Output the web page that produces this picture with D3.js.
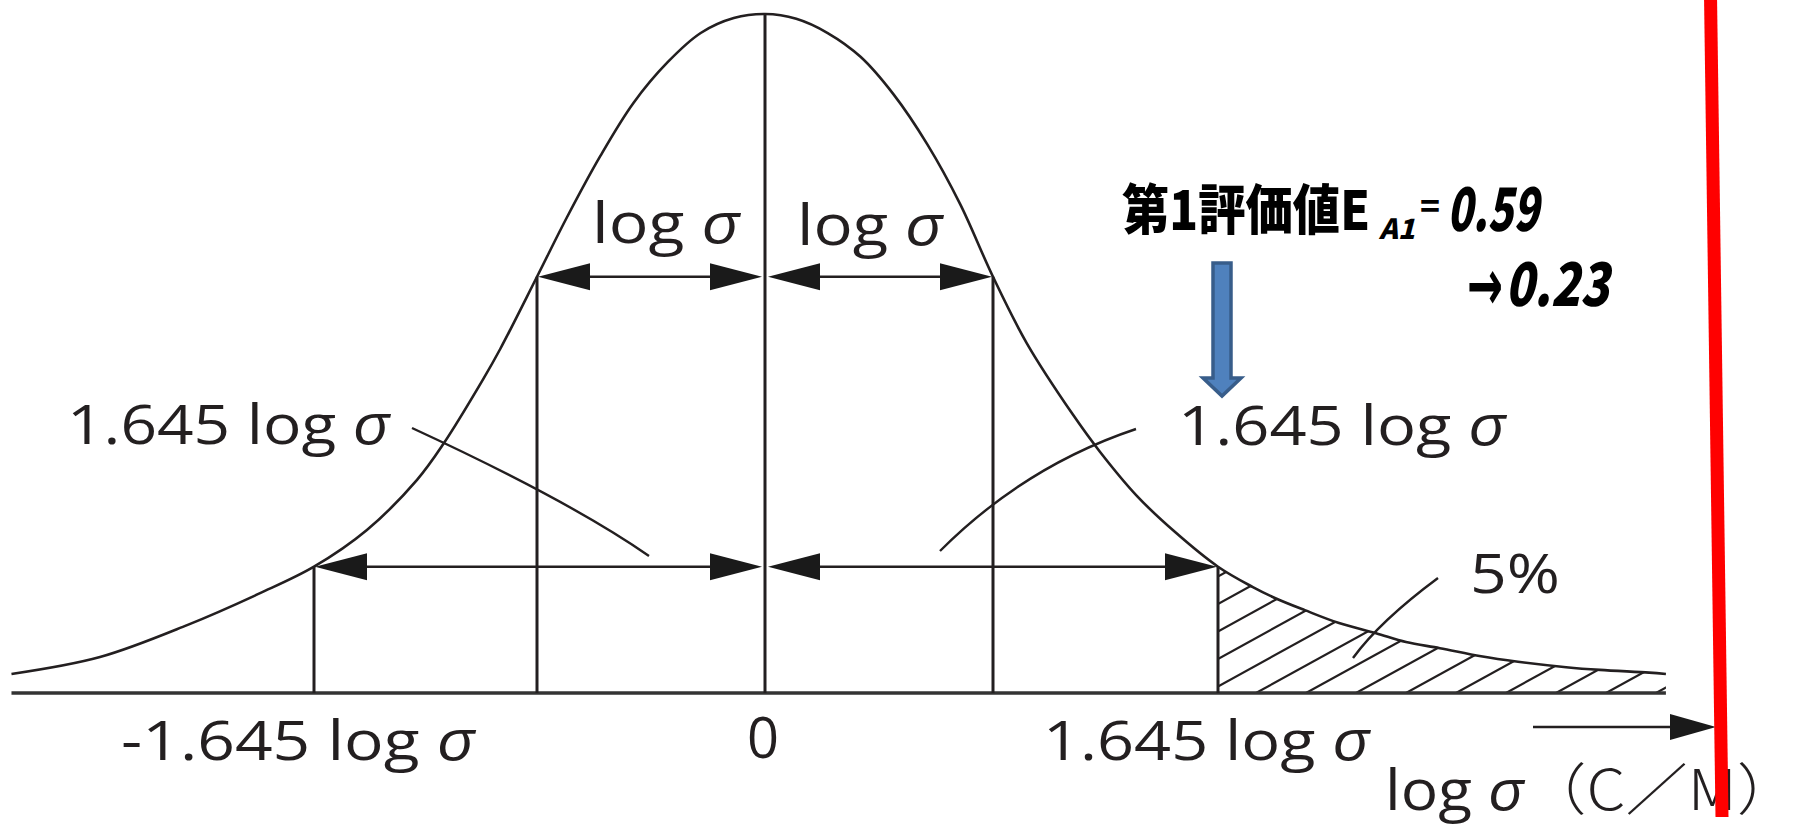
<!DOCTYPE html>
<html>
<head>
<meta charset="utf-8">
<script src="https://cdn.jsdelivr.net/npm/d3@7"></script>
<style>
  html, body { margin: 0; padding: 0; background: #fff; }
  svg { display: block; }
  .lbl { font-family: "Open Sans", "Noto Sans", sans-serif; fill: #231f20; }
  .jp { font-family: "Noto Sans CJK JP", sans-serif; font-weight: 900; fill: #000; }
</style>
</head>
<body>
<svg id="chart" width="1808" height="825"></svg>
<script>
// Distribution curve, x in units of log σ (schematic spacing), y relative to the peak density
const curveX = [-2.52, -2.264, -2.012, -1.801, -1.645, -1.492, -1.347, -1.272, -1.156, -1.106,
                -1, -0.868, -0.722, -0.577, -0.427, -0.282, -0.137, 0,
                0.137, 0.275, 0.419, 0.563, 0.712, 0.856, 1, 1.097, 1.229, 1.307, 1.413, 1.522,
                1.645, 1.745, 1.808, 1.894, 1.992, 2.098, 2.184, 2.281, 2.399, 2.505, 2.643, 2.740, 2.881, 2.929];
const curveY = [0.028, 0.053, 0.100, 0.147, 0.186, 0.240, 0.314, 0.366, 0.462, 0.507,
                0.613, 0.701, 0.791, 0.869, 0.929, 0.972, 0.994, 1,
                0.993, 0.972, 0.937, 0.882, 0.808, 0.720, 0.613, 0.515, 0.410, 0.355, 0.290, 0.237,
                0.186, 0.156, 0.140, 0.122, 0.103, 0.088, 0.075, 0.066, 0.054, 0.046, 0.038, 0.034, 0.030, 0.028];

// Marked positions on the axis and the spans annotated between them
const markX = [-1.645, -1, 0, 1, 1.645];
const innerSpans = [[-1, 0], [0, 1]];
const outerSpans = [[-1.645, 0], [0, 1.645]];
const innerSpanLabel = "log ";
const outerSpanLabel = "1.645 log ";
const tickLabels = ["-1.645 log ", "0", "1.645 log "];
const tailStart = 1.645;
const tailLabel = "5%";
const axisTitle = ["log ", "σ", "（C／M）"];
const evalTitle = "第1評価値E";
const evalSub = "A1";
const evalBefore = "0.59";
const evalAfter = "0.23";

const svg = d3.select("#chart");
const ink = "#231f20";

// Piecewise x scale: the marks are drawn at schematic (not proportional) spacing
const x = d3.scaleLinear().domain(markX).range([314, 537, 765, 993, 1218]);
const y = d3.scaleLinear().domain([0, 1]).range([693, 14]);

const pts = curveX.map((v, i) => [v, curveY[i]]);
const yAt = v => curveY[curveX.indexOf(v)];

const line = d3.line().x(d => x(d[0])).y(d => y(d[1])).curve(d3.curveCatmullRom.alpha(0.5));
const area = d3.area().x(d => x(d[0])).y0(y(0)).y1(d => y(d[1])).curve(d3.curveCatmullRom.alpha(0.5));

const defs = svg.append("defs");
defs.append("clipPath").attr("id", "under").append("path").attr("d", area(pts));
defs.append("clipPath").attr("id", "tail").append("rect")
  .attr("x", x(tailStart)).attr("y", 0)
  .attr("width", x(curveX[curveX.length - 1]) - x(tailStart) + 5).attr("height", y(0));

// Hatched upper tail
const hatch = svg.append("g").attr("clip-path", "url(#tail)")
  .append("g").attr("clip-path", "url(#under)");
const hx0 = x(tailStart) - 12;
d3.range(-4, 11).forEach(k => {
  const bx = hx0 + 50 * k;
  hatch.append("line")
    .attr("x1", bx).attr("y1", y(0))
    .attr("x2", bx + 500).attr("y2", y(0) - 0.55 * 500)
    .attr("stroke", ink).attr("stroke-width", 2.2);
});

// Baseline
svg.append("line")
  .attr("x1", x(curveX[0])).attr("x2", x(curveX[curveX.length - 1]))
  .attr("y1", y(0)).attr("y2", y(0))
  .attr("stroke", "#333").attr("stroke-width", 3.5);

// Verticals at the marks, up to the curve
svg.selectAll("line.mark").data(markX).join("line").attr("class", "mark")
  .attr("x1", d => x(d)).attr("x2", d => x(d))
  .attr("y1", y(0)).attr("y2", d => y(yAt(d)))
  .attr("stroke", ink).attr("stroke-width", 3);

// Curve
svg.append("path").attr("d", line(pts))
  .attr("fill", "none").attr("stroke", ink).attr("stroke-width", 2.6);

// Double-headed dimension arrows
function head(g, tx, ty, dir, len, half) {
  g.append("path")
    .attr("d", `M${tx},${ty}L${tx - dir * len},${ty - half}L${tx - dir * len},${ty + half}Z`)
    .attr("fill", "#1a1a1a");
}
function dimArrow(a, b, level) {
  const g = svg.append("g");
  const yy = y(level);
  const xa = x(a) + (a === 0 ? 3 : 1), xb = x(b) - (b === 0 ? 3 : 1);
  g.append("line").attr("x1", xa + 20).attr("x2", xb - 20).attr("y1", yy).attr("y2", yy)
    .attr("stroke", ink).attr("stroke-width", 2.6);
  head(g, xa, yy, -1, 52, 13.5);
  head(g, xb, yy, 1, 52, 13.5);
}
innerSpans.forEach(s => dimArrow(s[0], s[1], yAt(-1)));
outerSpans.forEach(s => dimArrow(s[0], s[1], yAt(-1.645)));

// Text helper: plain part followed by an italic σ
function sigmaLabel(txt, px, py, len, size) {
  const t = svg.append("text").attr("class", "lbl")
    .attr("x", px).attr("y", py).attr("font-size", size)
    .attr("textLength", len).attr("lengthAdjust", "spacingAndGlyphs");
  t.append("tspan").text(txt);
  if (txt !== "0") t.append("tspan").attr("font-style", "italic").text("σ");
  return t;
}
sigmaLabel(innerSpanLabel, 592, 243, 148, 56);
sigmaLabel(innerSpanLabel, 797, 245, 146, 56);
sigmaLabel(outerSpanLabel, 67, 444, 323, 55);
sigmaLabel(outerSpanLabel, 1178, 445, 328, 55);
sigmaLabel(tickLabels[0], 121, 760, 354, 55);
sigmaLabel(tickLabels[1], 747, 758, 32, 56);
sigmaLabel(tickLabels[2], 1043, 760, 327, 55);

svg.append("text").attr("class", "lbl").attr("x", 1470).attr("y", 593)
  .attr("font-size", 54).attr("textLength", 90).attr("lengthAdjust", "spacingAndGlyphs").text(tailLabel);

// Leader lines
const leaders = [
  "M412,428 Q570,501 649,556",
  "M1136,429 Q1025,466 940,551",
  "M1438,578 Q1380,621 1353,658"
];
svg.selectAll("path.leader").data(leaders).join("path").attr("class", "leader")
  .attr("d", d => d).attr("fill", "none").attr("stroke", ink).attr("stroke-width", 2.4);

// Axis direction arrow and title
const ax = svg.append("g");
ax.append("line").attr("x1", 1533).attr("x2", 1680).attr("y1", 727).attr("y2", 727)
  .attr("stroke", ink).attr("stroke-width", 2.6);
head(ax, 1716, 727, 1, 46, 13);
const at = svg.append("text").attr("class", "lbl").attr("x", 1385).attr("y", 810)
  .attr("font-size", 56).attr("textLength", 414).attr("lengthAdjust", "spacingAndGlyphs");
at.append("tspan").text(axisTitle[0]);
at.append("tspan").attr("font-style", "italic").text(axisTitle[1]);
at.append("tspan").attr("font-family", "'Noto Sans CJK JP', sans-serif").attr("font-weight", 300).text(axisTitle[2]);

// Evaluation value annotation
svg.append("text").attr("class", "jp").attr("x", 1122).attr("y", 230)
  .attr("font-size", 54).attr("textLength", 248).attr("lengthAdjust", "spacingAndGlyphs").text(evalTitle);
svg.append("text").attr("class", "jp").attr("x", 1379).attr("y", 239)
  .attr("font-size", 28).attr("font-style", "italic")
  .attr("textLength", 36).attr("lengthAdjust", "spacingAndGlyphs").text(evalSub);
svg.append("text").attr("class", "jp").attr("x", 1420).attr("y", 217)
  .attr("font-size", 30).attr("font-weight", 400)
  .attr("textLength", 20).attr("lengthAdjust", "spacingAndGlyphs").text("=");
svg.append("text").attr("class", "jp").attr("x", 1447).attr("y", 231)
  .attr("font-size", 60).attr("font-style", "italic")
  .attr("textLength", 92).attr("lengthAdjust", "spacingAndGlyphs").text(evalBefore);
svg.append("text").attr("x", 1467).attr("y", 310)
  .attr("font-family", "'DejaVu Sans', sans-serif").attr("font-weight", 700).attr("font-size", 72)
  .attr("fill", "#000")
  .attr("textLength", 36).attr("lengthAdjust", "spacingAndGlyphs").text("→");
svg.append("text").attr("class", "jp").attr("x", 1505).attr("y", 306)
  .attr("font-size", 60).attr("font-style", "italic")
  .attr("textLength", 104).attr("lengthAdjust", "spacingAndGlyphs").text(evalAfter);

// Block arrow pointing down toward the tail
svg.append("path")
  .attr("d", "M1213,263 L1231,263 L1231,378 L1241,378 L1222,396 L1203,378 L1213,378 Z")
  .attr("fill", "#4f81bd").attr("stroke", "#385d8a").attr("stroke-width", 3.5)
  .attr("stroke-linejoin", "miter");

// Red marker line
svg.append("line").attr("x1", 1710.5).attr("y1", -5).attr("x2", 1722).attr("y2", 817)
  .attr("stroke", "#ff0000").attr("stroke-width", 13);
</script>
</body>
</html>
